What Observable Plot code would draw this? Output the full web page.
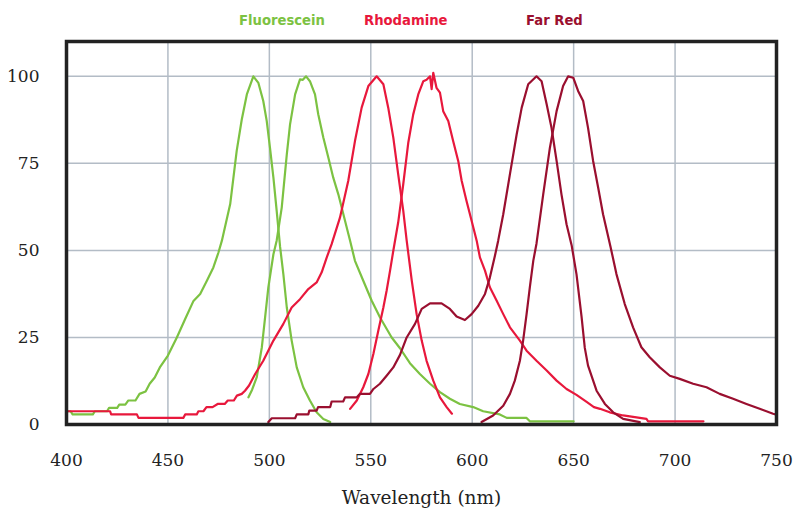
<!DOCTYPE html>
<html><head><meta charset="utf-8">
<script src="https://cdn.jsdelivr.net/npm/d3@7"></script>
<script src="https://cdn.jsdelivr.net/npm/@observablehq/plot@0.6"></script>
<style>
body{margin:0;background:#fff;}
#legend{position:relative;height:32px;width:796px;font:bold 13.2px "DejaVu Sans",sans-serif;}
#legend span{position:absolute;top:12px;line-height:18px;white-space:nowrap;}
</style></head><body>
<div id="legend"></div>
<div id="chart"></div>
<script>
// Legend / dye names and colours
const dyes = ["Fluorescein", "Rhodamine", "Far Red"];
const dyeColors = ["#7cc242", "#e8183c", "#9a0f2f"];

// Axis ticks
const xTicks = [400, 450, 500, 550, 600, 650, 700, 750];
const yTicks = [0, 25, 50, 75, 100];

// Spectra: [wavelength nm, relative intensity %]
const fluoresceinExcitation = [[400,3.8],[402,3.8],[403,2.9],[413,2.9],[414,3.8],[420,3.8],[421,4.8],[425,4.8],[426,5.7],[429,5.7],[430.5,6.9],[434,6.9],[436,8.8],[439,9.5],[441,11.7],[443.5,13.5],[446,16.4],[450,19.8],[454.4,25],[458.5,30.3],[462.6,35.5],[465.9,37.5],[469.2,41.3],[472.4,45.1],[474.9,49.4],[476.6,52.8],[480.7,63.3],[483.9,78.6],[486.4,87.6],[488.9,94.8],[492.1,100],[494.6,98.1],[497,92.9],[498.7,87.2],[500.3,79.5],[502,70.9],[503.6,61.4],[505.3,51],[506.9,43.2],[508.6,33.6],[511,24.1],[513.5,16.4],[516.7,10.7],[520,6.9],[523.3,3.5],[526.6,1.6],[530,0.7]];
const fluoresceinEmission = [[489.7,7.8],[491.5,10],[493.8,13.6],[496.3,22.2],[497.9,30.8],[499.5,39.4],[502,48.9],[503.6,52.8],[506.1,62.3],[508.6,77.6],[510.2,86.2],[512.7,94.8],[515.1,99.1],[516.5,99],[518.1,100],[520,98.6],[522.5,94.8],[524.1,89.1],[526.6,82.4],[529.1,76.6],[531.5,70.9],[534,66.1],[537.3,58.5],[539.8,52.8],[542.2,47],[546.3,41.3],[550.4,35.6],[554.5,30.8],[560.3,25],[564.4,21.9],[569.3,17.6],[574.2,14.5],[579.2,11.7],[584.1,9.3],[589,7.4],[593.9,5.9],[600.5,5],[605.4,3.8],[613.6,2.9],[617,1.9],[626.8,1.9],[628.4,0.9],[650,0.9]];
const rhodamineExcitation = [[400,3.8],[421.5,3.8],[422,2.9],[434.7,2.9],[435.5,1.9],[457.6,1.9],[458.5,2.9],[464.2,2.9],[465,3.8],[467.5,3.8],[469,5],[472,5],[474.5,5.9],[478,5.9],[479.5,6.9],[482.5,6.9],[484,8.3],[486.4,8.8],[488,9.7],[490,11.2],[493,14.5],[497,18.3],[502,24.1],[506.9,28.9],[511,33.6],[515.1,36],[519.2,38.9],[523.3,40.8],[525.8,43.7],[528.3,48],[530.7,51.8],[534.8,59.4],[538.9,70],[542.2,81.4],[545.5,91],[548.8,97.2],[552.9,100],[556.2,97.7],[558.6,91],[561.1,82.4],[563.5,71.9],[566,61.4],[567.7,52.8],[570.2,41.3],[572.6,31.7],[575.1,24.1],[577.5,18.3],[580.8,12.6],[584.1,7.8],[587.4,5],[590,3.1]];
const rhodamineEmission = [[539.8,4.5],[543.1,6.9],[546.3,10.7],[548.8,14.5],[551.3,20.3],[553.7,26.9],[556.2,33.6],[557.8,38.4],[559.5,44.2],[561.1,49.9],[563.5,58],[566,69],[568.5,81],[570.9,89],[573.4,94.8],[575.9,98.6],[577.5,99],[579.2,100],[580,96.3],[580.8,101],[582.4,96.7],[584.1,95.3],[585.7,90],[588.2,87.2],[590.6,81.4],[593.1,75.7],[594.8,70],[597.2,64.2],[599.7,58.5],[602.2,52.8],[603.8,48],[606.3,44.2],[608.7,39.4],[612,35.6],[615.3,31.7],[618.6,27.9],[623.5,24.1],[626.8,21.2],[631.7,18.3],[636.7,15.5],[641.6,12.6],[646.5,10.2],[651.4,8.5],[656.4,6.5],[660,5],[663,4.5],[667.8,3.5],[674.4,2.6],[685.9,1.6],[686.7,0.9],[714,0.9]];
const farRedExcitation = [[499.5,0.7],[501.2,1.8],[512.7,1.8],[513.5,2.9],[519.2,2.9],[519.7,4],[523.3,4],[524,5],[530,5],[530.7,6.6],[536.4,6.6],[537.3,7.8],[543.1,7.8],[544.7,8.8],[549.6,8.8],[551.3,10.2],[554.5,11.7],[557.8,14],[561.1,16.4],[564.4,20],[567.7,25],[571.8,28.9],[575.1,33.2],[579.2,34.8],[584.9,34.8],[589,33.2],[592.3,31],[596.4,30],[599.7,31.7],[603,34.1],[606.3,37.5],[608.7,42.2],[611.2,48.5],[612.8,52.8],[615.3,60.4],[618.6,71.9],[621.9,83.3],[624.4,91],[627.6,97.7],[631.7,100],[634.2,98.6],[636.7,92],[639.1,85.2],[641.6,75.7],[644,66.1],[646.5,57.5],[649,51.5],[651.4,43.2],[653.9,31],[655.5,22],[657.1,16.9],[661.3,9.7],[665.4,5.9],[669.5,3.5],[674.4,1.6],[682.6,0.7]];
const farRedEmission = [[604.6,0.7],[610.3,2.6],[615.3,5.4],[618.6,8.8],[621,12.6],[623.5,18.3],[625.1,24.1],[626.8,31.7],[628.4,39.4],[630.1,47],[631.7,52],[635,66.1],[638.3,79.5],[641.6,90],[644.8,97.2],[647.3,100],[649.8,99.6],[652.2,95.8],[654.7,92.9],[657.1,85.2],[659.6,75.7],[662.1,68],[664.5,60.4],[668.2,51],[671.1,43.2],[675.2,34.6],[679.3,27.9],[683.4,22.2],[687.5,19.3],[692.5,16.4],[697.4,14],[702.3,13.1],[708.9,11.7],[715.5,10.7],[722,8.8],[728.6,7.4],[735.2,5.9],[741.7,4.5],[748.3,3.1],[750,2.8]];

const curves = [
  {dye: "Fluorescein", part: "ex", pts: fluoresceinExcitation},
  {dye: "Fluorescein", part: "em", pts: fluoresceinEmission},
  {dye: "Rhodamine", part: "ex", pts: rhodamineExcitation},
  {dye: "Rhodamine", part: "em", pts: rhodamineEmission},
  {dye: "Far Red", part: "ex", pts: farRedExcitation},
  {dye: "Far Red", part: "em", pts: farRedEmission}
];
const rows = curves.flatMap(c => c.pts.map(([wl, v]) => ({dye: c.dye, curve: c.dye + " " + c.part, wl, v})));

// legend
const legendLeft = [239, 364, 526];
const legend = document.getElementById("legend");
dyes.forEach((d, i) => {
  const s = document.createElement("span");
  s.textContent = d;
  s.style.color = dyeColors[i];
  s.style.left = legendLeft[i] + "px";
  legend.appendChild(s);
});

const chart = Plot.plot({
  width: 796,
  height: 476,
  marginTop: 9,
  marginBottom: 84,
  marginLeft: 66,
  marginRight: 20,
  style: {fontFamily: "'DejaVu Serif', serif", fontSize: "17px", color: "#222", background: "#fff"},
  x: {domain: [400, 750]},
  y: {domain: [0, 110]},
  color: {domain: dyes, range: dyeColors},
  marks: [
    Plot.gridX(xTicks.slice(1, -1), {stroke: "#b3bcc6", strokeOpacity: 1, strokeWidth: 1.5}),
    Plot.gridY(yTicks.slice(1), {stroke: "#b3bcc6", strokeOpacity: 1, strokeWidth: 1.5}),
    Plot.line(rows, {x: "wl", y: "v", z: "curve", stroke: "dye", strokeWidth: 2.2, strokeLinejoin: "round"}),
    Plot.frame({stroke: "#222", strokeWidth: 3.5}),
    Plot.axisX({ticks: xTicks, tickSize: 0, tickPadding: 29, label: null, fontSize: 17}),
    Plot.axisX({ticks: [], tickSize: 0, label: "Wavelength (nm)", labelAnchor: "center", labelOffset: 79, labelArrow: "none", fontSize: 18.5}),
    Plot.axisY({ticks: yTicks, tickSize: 0, tickPadding: 27, label: null, fontSize: 17})
  ]
});
document.getElementById("chart").appendChild(chart);
</script>
</body></html>
